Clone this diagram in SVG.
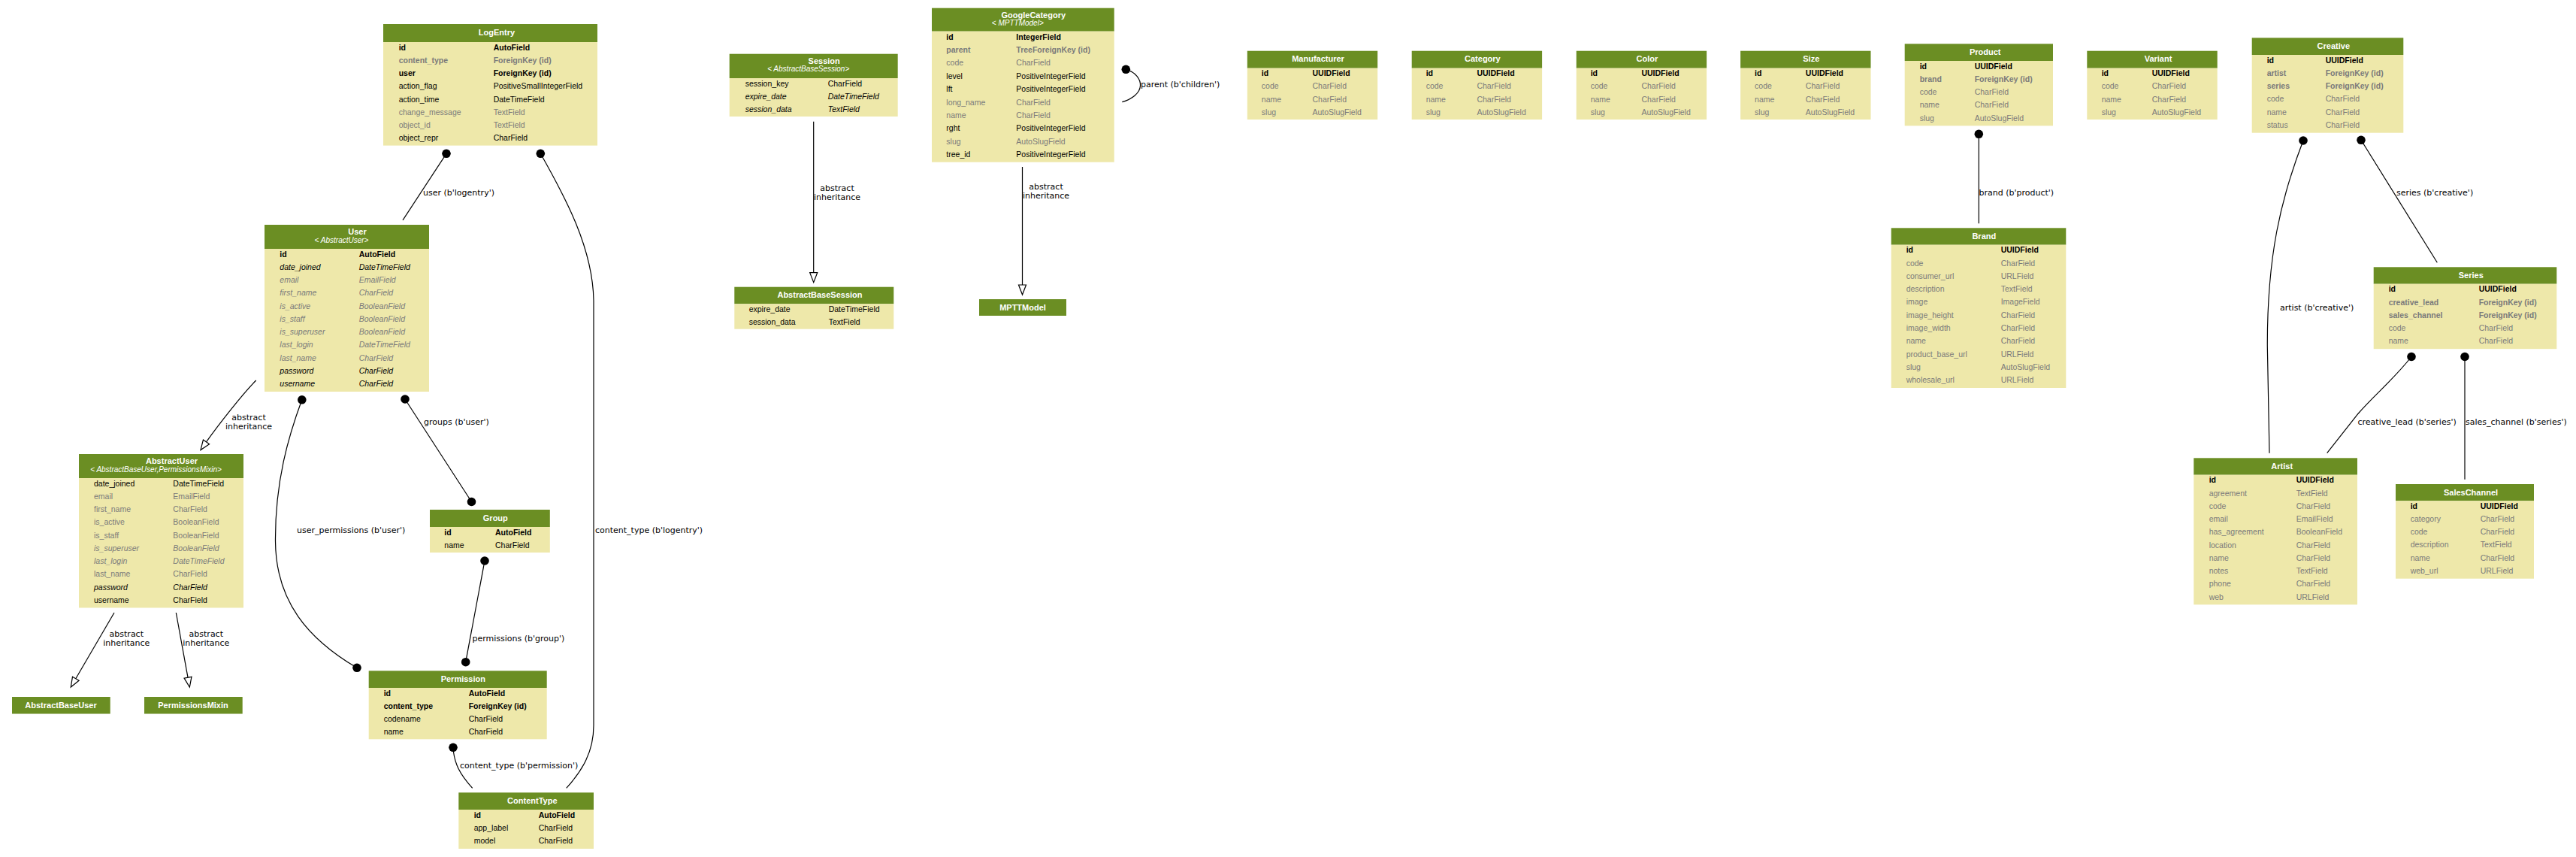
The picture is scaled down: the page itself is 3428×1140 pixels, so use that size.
<svg xmlns="http://www.w3.org/2000/svg" width="3428" height="1140" viewBox="0 0 3428 1140">
<style>
.hd{fill:#6b8e23}
.bd{fill:#eee8aa}
text{font-family:"Liberation Sans",Arial,sans-serif;font-size:10.5px;fill:#000}
.ttl{font-weight:bold;font-size:11px;fill:#fff;text-anchor:middle}
.sub{font-style:italic;font-size:10px;fill:#fff;text-anchor:middle}
.b{font-weight:bold}
.g{fill:#7a7a7a}
.i{font-style:italic}
.el{font-family:"DejaVu Sans",sans-serif;font-size:11px}
.elm{font-family:"DejaVu Sans",sans-serif;font-size:11px;text-anchor:middle}
.e{fill:none;stroke:#000;stroke-width:1.2}
.ei{fill:none;stroke:#000;stroke-width:1.2;marker-end:url(#empty)}
.dot{fill:#000}
</style>
<defs>
<marker id="empty" markerUnits="userSpaceOnUse" markerWidth="16" markerHeight="14" refX="0" refY="6" orient="auto" viewBox="-1 0 16 12">
<path d="M0,1 L13,6 L0,11 Z" fill="#fff" stroke="#000" stroke-width="1.2"/>
</marker>
</defs>
<rect width="3428" height="1140" fill="#fff"/>

<g id="connectors">
<!-- LogEntry.user -> User -->
<path class="e" d="M594,204.3 L536,292.9"/><circle class="dot" cx="594" cy="204.3" r="5.8"/>
<text class="el" x="563" y="260">user (b'logentry')</text>
<!-- LogEntry.content_type -> ContentType -->
<path class="e" d="M719.3,204.3 C752,262 789,330 790,400 L790,965 C790,1000 775,1025 753.7,1048.3"/><circle class="dot" cx="719.3" cy="204.3" r="5.8"/>
<text class="el" x="792" y="709">content_type (b'logentry')</text>
<!-- User.groups -> Group -->
<path class="e" d="M539,531 L627.5,667.5"/><circle class="dot" cx="539" cy="531" r="5.8"/><circle class="dot" cx="627.5" cy="667.5" r="5.8"/>
<text class="el" x="564" y="565">groups (b'user')</text>
<!-- User.user_permissions -> Permission -->
<path class="e" d="M401.8,531.8 C384,580 366,640 366.5,720 C367,800 410,850 475,888.3"/><circle class="dot" cx="401.8" cy="531.8" r="5.8"/><circle class="dot" cx="475" cy="888.3" r="5.8"/>
<text class="el" x="395" y="709">user_permissions (b'user')</text>
<!-- Group.permissions -> Permission -->
<path class="e" d="M645,746 L619.7,880.7"/><circle class="dot" cx="645" cy="746" r="5.8"/><circle class="dot" cx="619.7" cy="880.7" r="5.8"/>
<text class="el" x="628.5" y="853">permissions (b'group')</text>
<!-- Permission.content_type -> ContentType -->
<path class="e" d="M603,994.3 C604,1015 612,1030 628.7,1048.3"/><circle class="dot" cx="603" cy="994.3" r="5.8"/>
<text class="el" x="612" y="1022">content_type (b'permission')</text>
<!-- inheritance -->
<path class="ei" d="M340.7,506 C322,525 290,566 274.5,587.9"/>
<text class="elm" x="331" y="559">abstract</text><text class="elm" x="331" y="571">inheritance</text>
<path class="ei" d="M152,815 L100.8,902.8"/>
<text class="elm" x="168.3" y="847">abstract</text><text class="elm" x="168.3" y="859">inheritance</text>
<path class="ei" d="M234.3,815 L250,901.2"/>
<text class="elm" x="274.3" y="847">abstract</text><text class="elm" x="274.3" y="859">inheritance</text>
<path class="ei" d="M1082.7,161.7 L1082.7,362.7"/>
<text class="elm" x="1114" y="254">abstract</text><text class="elm" x="1114" y="266">inheritance</text>
<path class="ei" d="M1360.5,222 L1360.5,379"/>
<text class="elm" x="1392" y="251.5">abstract</text><text class="elm" x="1392" y="263.5">inheritance</text>
<!-- GoogleCategory.parent self loop -->
<path class="e" d="M1498.3,92.3 C1512,96 1518,106 1517.5,114 C1517,124 1506,132 1493.3,135.7"/><circle class="dot" cx="1498.3" cy="92.3" r="5.8"/>
<text class="el" x="1518" y="116">parent (b'children')</text>
<!-- Product.brand -> Brand -->
<path class="e" d="M2633.3,178.3 L2633.3,297.3"/><circle class="dot" cx="2633.3" cy="178.3" r="5.8"/>
<text class="el" x="2633.5" y="260">brand (b'product')</text>
<!-- Creative.series -> Series -->
<path class="e" d="M3142,186.3 L3243.3,349.3"/><circle class="dot" cx="3142" cy="186.3" r="5.8"/>
<text class="el" x="3189" y="260">series (b'creative')</text>
<!-- Creative.artist -> Artist -->
<path class="e" d="M3065,187 C3035,265 3017,340 3017.3,460 L3020,602.7"/><circle class="dot" cx="3065" cy="187" r="5.8"/>
<text class="el" x="3034" y="413">artist (b'creative')</text>
<!-- Series.creative_lead -> Artist -->
<path class="e" d="M3209,474.5 C3185,505 3160,525 3138.3,550 L3096.7,602.7"/><circle class="dot" cx="3209" cy="474.5" r="5.8"/>
<text class="el" x="3137.5" y="565">creative_lead (b'series')</text>
<!-- Series.sales_channel -> SalesChannel -->
<path class="e" d="M3280,474.5 L3280,637.7"/><circle class="dot" cx="3280" cy="474.5" r="5.8"/>
<text class="el" x="3281" y="565">sales_channel (b'series')</text>
</g>

<g id="LogEntry">
<rect class="hd" x="510" y="32" width="285" height="24"/><rect class="bd" x="510" y="56" width="285" height="137.6"/>
<text class="ttl" x="661" y="46.5">LogEntry</text>
<text class="b" x="530.7" y="66.5">id</text><text class="b" x="656.7" y="66.5">AutoField</text>
<text class="b g" x="530.7" y="83.75">content_type</text><text class="b g" x="656.7" y="83.75">ForeignKey (id)</text>
<text class="b" x="530.7" y="101">user</text><text class="b" x="656.7" y="101">ForeignKey (id)</text>
<text x="530.7" y="118.25">action_flag</text><text x="656.7" y="118.25">PositiveSmallIntegerField</text>
<text x="530.7" y="135.5">action_time</text><text x="656.7" y="135.5">DateTimeField</text>
<text class="g" x="530.7" y="152.75">change_message</text><text class="g" x="656.7" y="152.75">TextField</text>
<text class="g" x="530.7" y="170">object_id</text><text class="g" x="656.7" y="170">TextField</text>
<text x="530.7" y="187.25">object_repr</text><text x="656.7" y="187.25">CharField</text>
</g>

<g id="User">
<rect class="hd" x="352" y="299" width="219" height="32"/><rect class="bd" x="352" y="331" width="219" height="190"/>
<text class="ttl" x="475.5" y="312">User</text><text class="sub" x="454.5" y="323">&lt; AbstractUser&gt;</text>
<text class="b" x="372.3" y="341.5">id</text><text class="b" x="477.7" y="341.5">AutoField</text>
<text class="i" x="372.3" y="358.75">date_joined</text><text class="i" x="477.7" y="358.75">DateTimeField</text>
<text class="i g" x="372.3" y="376">email</text><text class="i g" x="477.7" y="376">EmailField</text>
<text class="i g" x="372.3" y="393.25">first_name</text><text class="i g" x="477.7" y="393.25">CharField</text>
<text class="i g" x="372.3" y="410.5">is_active</text><text class="i g" x="477.7" y="410.5">BooleanField</text>
<text class="i g" x="372.3" y="427.75">is_staff</text><text class="i g" x="477.7" y="427.75">BooleanField</text>
<text class="i g" x="372.3" y="445">is_superuser</text><text class="i g" x="477.7" y="445">BooleanField</text>
<text class="i g" x="372.3" y="462.25">last_login</text><text class="i g" x="477.7" y="462.25">DateTimeField</text>
<text class="i g" x="372.3" y="479.5">last_name</text><text class="i g" x="477.7" y="479.5">CharField</text>
<text class="i" x="372.3" y="496.75">password</text><text class="i" x="477.7" y="496.75">CharField</text>
<text class="i" x="372.3" y="514">username</text><text class="i" x="477.7" y="514">CharField</text>
</g>

<g id="AbstractUser">
<rect class="hd" x="105" y="604" width="219" height="32"/><rect class="bd" x="105" y="636" width="219" height="172.5"/>
<text class="ttl" x="228.5" y="617">AbstractUser</text><text class="sub" x="207.5" y="628">&lt; AbstractBaseUser,PermissionsMixin&gt;</text>
<text x="125" y="646.5">date_joined</text><text x="230.3" y="646.5">DateTimeField</text>
<text class="g" x="125" y="663.75">email</text><text class="g" x="230.3" y="663.75">EmailField</text>
<text class="g" x="125" y="681">first_name</text><text class="g" x="230.3" y="681">CharField</text>
<text class="g" x="125" y="698.25">is_active</text><text class="g" x="230.3" y="698.25">BooleanField</text>
<text class="g" x="125" y="715.5">is_staff</text><text class="g" x="230.3" y="715.5">BooleanField</text>
<text class="i g" x="125" y="732.75">is_superuser</text><text class="i g" x="230.3" y="732.75">BooleanField</text>
<text class="i g" x="125" y="750">last_login</text><text class="i g" x="230.3" y="750">DateTimeField</text>
<text class="g" x="125" y="767.25">last_name</text><text class="g" x="230.3" y="767.25">CharField</text>
<text class="i" x="125" y="784.5">password</text><text class="i" x="230.3" y="784.5">CharField</text>
<text x="125" y="801.75">username</text><text x="230.3" y="801.75">CharField</text>
</g>

<g id="AbstractBaseUser">
<rect class="hd" x="16" y="927" width="130.7" height="22.5"/>
<text class="ttl" x="81" y="941.5">AbstractBaseUser</text>
</g>
<g id="PermissionsMixin">
<rect class="hd" x="192" y="927" width="130.7" height="22.5"/>
<text class="ttl" x="257" y="941.5">PermissionsMixin</text>
</g>

<g id="Group">
<rect class="hd" x="572" y="678" width="159.8" height="23"/><rect class="bd" x="572" y="701" width="159.8" height="34"/>
<text class="ttl" x="659.3" y="692.5">Group</text>
<text class="b" x="591.3" y="711.5">id</text><text class="b" x="659" y="711.5">AutoField</text>
<text x="591.3" y="728.75">name</text><text x="659" y="728.75">CharField</text>
</g>

<g id="Permission">
<rect class="hd" x="490.7" y="892.3" width="237" height="22.7"/><rect class="bd" x="490.7" y="915" width="237" height="68.3"/>
<text class="ttl" x="616.3" y="907">Permission</text>
<text class="b" x="510.7" y="925.5">id</text><text class="b" x="623.7" y="925.5">AutoField</text>
<text class="b" x="510.7" y="942.6">content_type</text><text class="b" x="623.7" y="942.6">ForeignKey (id)</text>
<text x="510.7" y="959.7">codename</text><text x="623.7" y="959.7">CharField</text>
<text x="510.7" y="976.8">name</text><text x="623.7" y="976.8">CharField</text>
</g>

<g id="ContentType">
<rect class="hd" x="610.3" y="1054.3" width="179.7" height="22.7"/><rect class="bd" x="610.3" y="1077" width="179.7" height="52"/>
<text class="ttl" x="708.3" y="1069">ContentType</text>
<text class="b" x="630.7" y="1087.5">id</text><text class="b" x="716.7" y="1087.5">AutoField</text>
<text x="630.7" y="1104.8">app_label</text><text x="716.7" y="1104.8">CharField</text>
<text x="630.7" y="1122.1">model</text><text x="716.7" y="1122.1">CharField</text>
</g>

<g id="Session">
<rect class="hd" x="970.7" y="71.7" width="224" height="32.3"/><rect class="bd" x="970.7" y="104" width="224" height="51"/>
<text class="ttl" x="1096.7" y="84.5">Session</text><text class="sub" x="1075.7" y="95">&lt; AbstractBaseSession&gt;</text>
<text x="991.7" y="114.5">session_key</text><text x="1101.7" y="114.5">CharField</text>
<text class="i" x="991.7" y="131.75">expire_date</text><text class="i" x="1101.7" y="131.75">DateTimeField</text>
<text class="i" x="991.7" y="149">session_data</text><text class="i" x="1101.7" y="149">TextField</text>
</g>

<g id="AbstractBaseSession">
<rect class="hd" x="977.3" y="381.7" width="212" height="22.6"/><rect class="bd" x="977.3" y="404.3" width="212" height="33.4"/>
<text class="ttl" x="1091" y="396">AbstractBaseSession</text>
<text x="996.7" y="414.8">expire_date</text><text x="1102.7" y="414.8">DateTimeField</text>
<text x="996.7" y="432">session_data</text><text x="1102.7" y="432">TextField</text>
</g>

<g id="GoogleCategory">
<rect class="hd" x="1240" y="10.7" width="242.7" height="31"/><rect class="bd" x="1240" y="41.7" width="242.7" height="174"/>
<text class="ttl" x="1375.3" y="23.5">GoogleCategory</text><text class="sub" x="1354.3" y="34">&lt; MPTTModel&gt;</text>
<text class="b" x="1259.3" y="52.5">id</text><text class="b" x="1352.3" y="52.5">IntegerField</text>
<text class="b g" x="1259.3" y="69.9">parent</text><text class="b g" x="1352.3" y="69.9">TreeForeignKey (id)</text>
<text class="g" x="1259.3" y="87.3">code</text><text class="g" x="1352.3" y="87.3">CharField</text>
<text x="1259.3" y="104.7">level</text><text x="1352.3" y="104.7">PositiveIntegerField</text>
<text x="1259.3" y="122.1">lft</text><text x="1352.3" y="122.1">PositiveIntegerField</text>
<text class="g" x="1259.3" y="139.5">long_name</text><text class="g" x="1352.3" y="139.5">CharField</text>
<text class="g" x="1259.3" y="156.9">name</text><text class="g" x="1352.3" y="156.9">CharField</text>
<text x="1259.3" y="174.3">rght</text><text x="1352.3" y="174.3">PositiveIntegerField</text>
<text class="g" x="1259.3" y="191.7">slug</text><text class="g" x="1352.3" y="191.7">AutoSlugField</text>
<text x="1259.3" y="209.1">tree_id</text><text x="1352.3" y="209.1">PositiveIntegerField</text>
</g>

<g id="MPTTModel">
<rect class="hd" x="1303" y="398" width="116" height="22"/>
<text class="ttl" x="1361" y="412.5">MPTTModel</text>
</g>

<g id="Manufacturer">
<rect class="hd" x="1659.8" y="67.7" width="173.4" height="23"/><rect class="bd" x="1659.8" y="90.7" width="173.4" height="68.3"/>
<text class="ttl" x="1754" y="82">Manufacturer</text>
<text class="b" x="1678.8" y="101.2">id</text><text class="b" x="1746.5" y="101.2">UUIDField</text>
<text class="g" x="1678.8" y="118.45">code</text><text class="g" x="1746.5" y="118.45">CharField</text>
<text class="g" x="1678.8" y="135.7">name</text><text class="g" x="1746.5" y="135.7">CharField</text>
<text class="g" x="1678.8" y="152.95">slug</text><text class="g" x="1746.5" y="152.95">AutoSlugField</text>
</g>

<g id="Category">
<rect class="hd" x="1878.7" y="67.7" width="173.4" height="23"/><rect class="bd" x="1878.7" y="90.7" width="173.4" height="68.3"/>
<text class="ttl" x="1972.9" y="82">Category</text>
<text class="b" x="1897.7" y="101.2">id</text><text class="b" x="1965.4" y="101.2">UUIDField</text>
<text class="g" x="1897.7" y="118.45">code</text><text class="g" x="1965.4" y="118.45">CharField</text>
<text class="g" x="1897.7" y="135.7">name</text><text class="g" x="1965.4" y="135.7">CharField</text>
<text class="g" x="1897.7" y="152.95">slug</text><text class="g" x="1965.4" y="152.95">AutoSlugField</text>
</g>

<g id="Color">
<rect class="hd" x="2097.7" y="67.7" width="173.4" height="23"/><rect class="bd" x="2097.7" y="90.7" width="173.4" height="68.3"/>
<text class="ttl" x="2191.9" y="82">Color</text>
<text class="b" x="2116.7" y="101.2">id</text><text class="b" x="2184.4" y="101.2">UUIDField</text>
<text class="g" x="2116.7" y="118.45">code</text><text class="g" x="2184.4" y="118.45">CharField</text>
<text class="g" x="2116.7" y="135.7">name</text><text class="g" x="2184.4" y="135.7">CharField</text>
<text class="g" x="2116.7" y="152.95">slug</text><text class="g" x="2184.4" y="152.95">AutoSlugField</text>
</g>

<g id="Size">
<rect class="hd" x="2316.1" y="67.7" width="173.4" height="23"/><rect class="bd" x="2316.1" y="90.7" width="173.4" height="68.3"/>
<text class="ttl" x="2410.3" y="82">Size</text>
<text class="b" x="2335.1" y="101.2">id</text><text class="b" x="2402.8" y="101.2">UUIDField</text>
<text class="g" x="2335.1" y="118.45">code</text><text class="g" x="2402.8" y="118.45">CharField</text>
<text class="g" x="2335.1" y="135.7">name</text><text class="g" x="2402.8" y="135.7">CharField</text>
<text class="g" x="2335.1" y="152.95">slug</text><text class="g" x="2402.8" y="152.95">AutoSlugField</text>
</g>

<g id="Product">
<rect class="hd" x="2534.7" y="58.3" width="197.3" height="22.7"/><rect class="bd" x="2534.7" y="81" width="197.3" height="86.3"/>
<text class="ttl" x="2641.7" y="73">Product</text>
<text class="b" x="2554.7" y="91.5">id</text><text class="b" x="2627.7" y="91.5">UUIDField</text>
<text class="b g" x="2554.7" y="108.75">brand</text><text class="b g" x="2627.7" y="108.75">ForeignKey (id)</text>
<text class="g" x="2554.7" y="126">code</text><text class="g" x="2627.7" y="126">CharField</text>
<text class="g" x="2554.7" y="143.25">name</text><text class="g" x="2627.7" y="143.25">CharField</text>
<text class="g" x="2554.7" y="160.5">slug</text><text class="g" x="2627.7" y="160.5">AutoSlugField</text>
</g>

<g id="Variant">
<rect class="hd" x="2777.3" y="67.7" width="173.4" height="23"/><rect class="bd" x="2777.3" y="90.7" width="173.4" height="68.3"/>
<text class="ttl" x="2872" y="82">Variant</text>
<text class="b" x="2796.7" y="101.2">id</text><text class="b" x="2863.7" y="101.2">UUIDField</text>
<text class="g" x="2796.7" y="118.45">code</text><text class="g" x="2863.7" y="118.45">CharField</text>
<text class="g" x="2796.7" y="135.7">name</text><text class="g" x="2863.7" y="135.7">CharField</text>
<text class="g" x="2796.7" y="152.95">slug</text><text class="g" x="2863.7" y="152.95">AutoSlugField</text>
</g>

<g id="Brand">
<rect class="hd" x="2516.7" y="303.3" width="232.6" height="22.4"/><rect class="bd" x="2516.7" y="325.7" width="232.6" height="190.3"/>
<text class="ttl" x="2640.3" y="318">Brand</text>
<text class="b" x="2536.7" y="336.2">id</text><text class="b" x="2662.7" y="336.2">UUIDField</text>
<text class="g" x="2536.7" y="353.5">code</text><text class="g" x="2662.7" y="353.5">CharField</text>
<text class="g" x="2536.7" y="370.8">consumer_url</text><text class="g" x="2662.7" y="370.8">URLField</text>
<text class="g" x="2536.7" y="388.1">description</text><text class="g" x="2662.7" y="388.1">TextField</text>
<text class="g" x="2536.7" y="405.4">image</text><text class="g" x="2662.7" y="405.4">ImageField</text>
<text class="g" x="2536.7" y="422.7">image_height</text><text class="g" x="2662.7" y="422.7">CharField</text>
<text class="g" x="2536.7" y="440">image_width</text><text class="g" x="2662.7" y="440">CharField</text>
<text class="g" x="2536.7" y="457.3">name</text><text class="g" x="2662.7" y="457.3">CharField</text>
<text class="g" x="2536.7" y="474.6">product_base_url</text><text class="g" x="2662.7" y="474.6">URLField</text>
<text class="g" x="2536.7" y="491.9">slug</text><text class="g" x="2662.7" y="491.9">AutoSlugField</text>
<text class="g" x="2536.7" y="509.2">wholesale_url</text><text class="g" x="2662.7" y="509.2">URLField</text>
</g>

<g id="Creative">
<rect class="hd" x="2996.7" y="50.3" width="201.6" height="22.7"/><rect class="bd" x="2996.7" y="73" width="201.6" height="103.7"/>
<text class="ttl" x="3105.3" y="65">Creative</text>
<text class="b" x="3016.7" y="83.5">id</text><text class="b" x="3094.7" y="83.5">UUIDField</text>
<text class="b g" x="3016.7" y="100.8">artist</text><text class="b g" x="3094.7" y="100.8">ForeignKey (id)</text>
<text class="b g" x="3016.7" y="118.1">series</text><text class="b g" x="3094.7" y="118.1">ForeignKey (id)</text>
<text class="g" x="3016.7" y="135.4">code</text><text class="g" x="3094.7" y="135.4">CharField</text>
<text class="g" x="3016.7" y="152.7">name</text><text class="g" x="3094.7" y="152.7">CharField</text>
<text class="g" x="3016.7" y="170">status</text><text class="g" x="3094.7" y="170">CharField</text>
</g>

<g id="Series">
<rect class="hd" x="3158.7" y="355.3" width="243.6" height="22.4"/><rect class="bd" x="3158.7" y="377.7" width="243.6" height="86.5"/>
<text class="ttl" x="3288.3" y="370">Series</text>
<text class="b" x="3178.7" y="388.2">id</text><text class="b" x="3298.7" y="388.2">UUIDField</text>
<text class="b g" x="3178.7" y="405.5">creative_lead</text><text class="b g" x="3298.7" y="405.5">ForeignKey (id)</text>
<text class="b g" x="3178.7" y="422.8">sales_channel</text><text class="b g" x="3298.7" y="422.8">ForeignKey (id)</text>
<text class="g" x="3178.7" y="440.1">code</text><text class="g" x="3298.7" y="440.1">CharField</text>
<text class="g" x="3178.7" y="457.4">name</text><text class="g" x="3298.7" y="457.4">CharField</text>
</g>

<g id="Artist">
<rect class="hd" x="2919.3" y="609.3" width="217.7" height="22.4"/><rect class="bd" x="2919.3" y="631.7" width="217.7" height="172.6"/>
<text class="ttl" x="3036.7" y="624">Artist</text>
<text class="b" x="2939.7" y="642.2">id</text><text class="b" x="3055.7" y="642.2">UUIDField</text>
<text class="g" x="2939.7" y="659.5">agreement</text><text class="g" x="3055.7" y="659.5">TextField</text>
<text class="g" x="2939.7" y="676.7">code</text><text class="g" x="3055.7" y="676.7">CharField</text>
<text class="g" x="2939.7" y="694">email</text><text class="g" x="3055.7" y="694">EmailField</text>
<text class="g" x="2939.7" y="711.2">has_agreement</text><text class="g" x="3055.7" y="711.2">BooleanField</text>
<text class="g" x="2939.7" y="728.5">location</text><text class="g" x="3055.7" y="728.5">CharField</text>
<text class="g" x="2939.7" y="745.8">name</text><text class="g" x="3055.7" y="745.8">CharField</text>
<text class="g" x="2939.7" y="763">notes</text><text class="g" x="3055.7" y="763">TextField</text>
<text class="g" x="2939.7" y="780.3">phone</text><text class="g" x="3055.7" y="780.3">CharField</text>
<text class="g" x="2939.7" y="797.5">web</text><text class="g" x="3055.7" y="797.5">URLField</text>
</g>

<g id="SalesChannel">
<rect class="hd" x="3188" y="644" width="184" height="22.3"/><rect class="bd" x="3188" y="666.3" width="184" height="103.4"/>
<text class="ttl" x="3288" y="658.5">SalesChannel</text>
<text class="b" x="3207.7" y="676.8">id</text><text class="b" x="3300.7" y="676.8">UUIDField</text>
<text class="g" x="3207.7" y="694">category</text><text class="g" x="3300.7" y="694">CharField</text>
<text class="g" x="3207.7" y="711.2">code</text><text class="g" x="3300.7" y="711.2">CharField</text>
<text class="g" x="3207.7" y="728.4">description</text><text class="g" x="3300.7" y="728.4">TextField</text>
<text class="g" x="3207.7" y="745.6">name</text><text class="g" x="3300.7" y="745.6">CharField</text>
<text class="g" x="3207.7" y="762.8">web_url</text><text class="g" x="3300.7" y="762.8">URLField</text>
</g>
</svg>
